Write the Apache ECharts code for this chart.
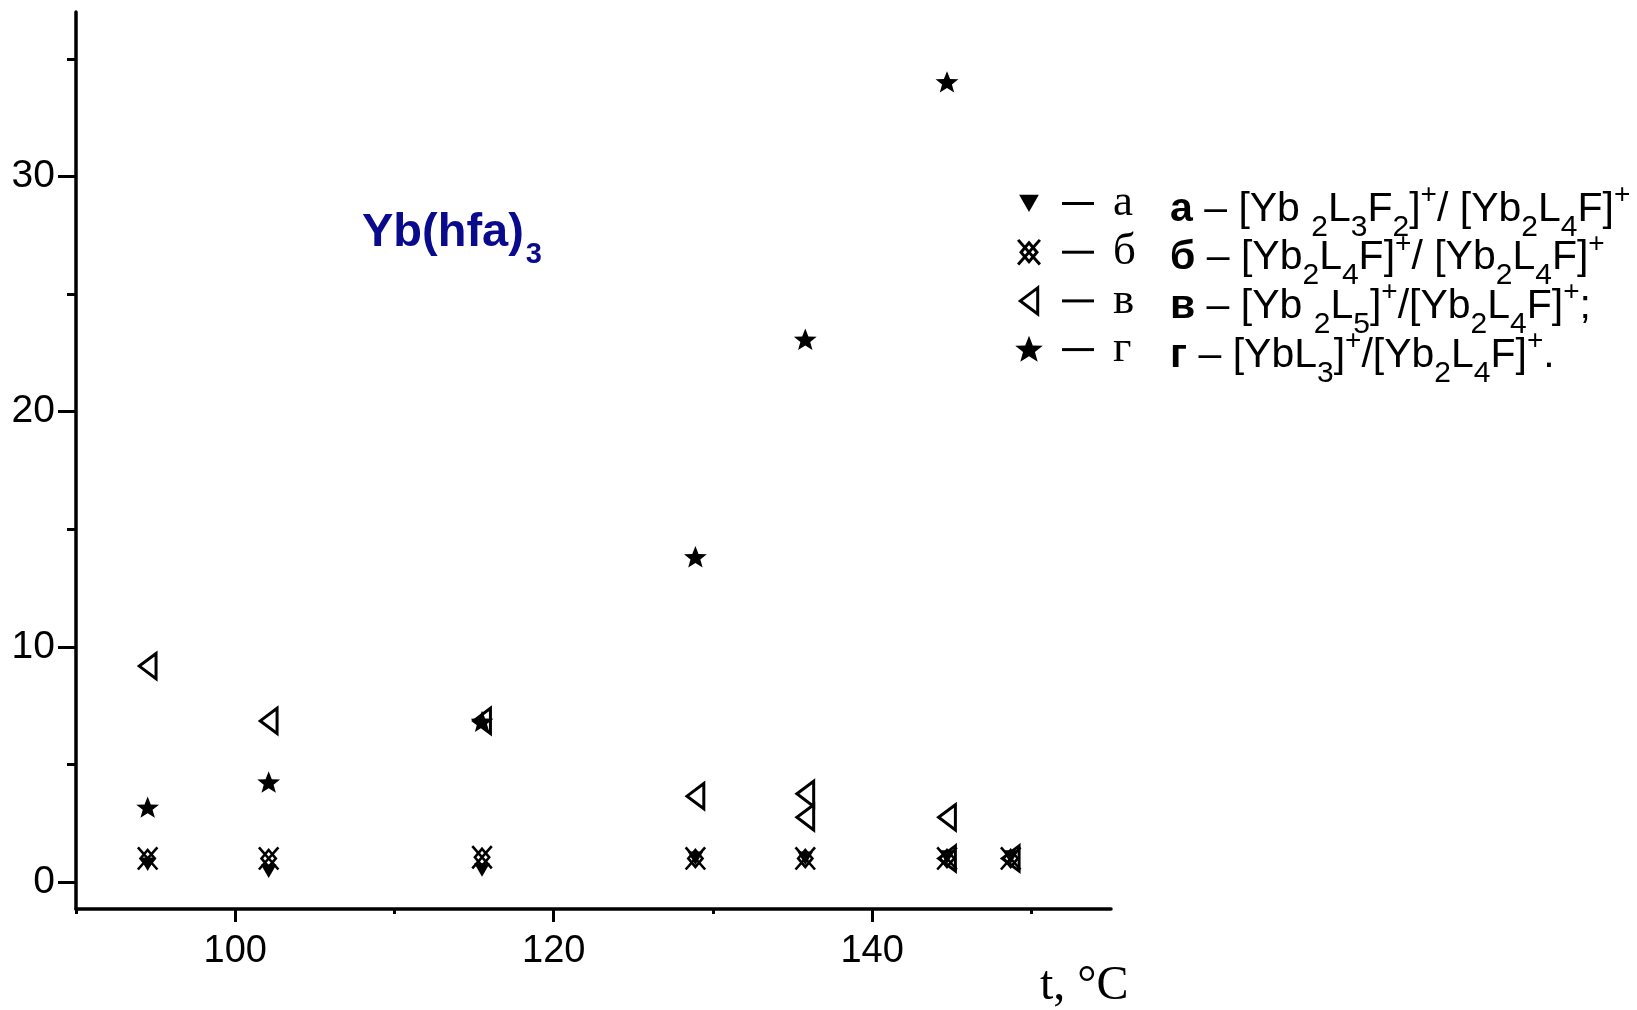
<!DOCTYPE html>
<html><head><meta charset="utf-8">
<script src="https://cdn.jsdelivr.net/npm/echarts@6/dist/echarts.min.js"></script>
<style>html,body{margin:0;padding:0;background:#fff}#c{width:1637px;height:1010px}</style>
</head><body><div id="c"></div>
<script>
// ---------- data ----------
const xRange = [90, 155];
const yRange = [-1.15, 37.0];
const xMajorTicks = [100, 120, 140];
const xMinorTicks = [90, 110, 130, 150];
const yMajorTicks = [0, 10, 20, 30];
const yMinorTicks = [5, 15, 25, 35];
const seriesNames = ['а', 'б', 'в', 'г'];
const dataA = [[94.5, 0.75], [102.1, 0.45], [115.5, 0.5], [128.9, 1.0], [135.8, 1.0], [144.7, 1.05], [148.7, 1.05]];
const dataB = [[94.5, 1.0], [102.1, 1.0], [115.5, 1.05], [128.9, 1.0], [135.8, 1.0], [144.7, 1.0], [148.7, 1.0]];
const dataV = [[94.5, 9.18], [102.1, 6.85], [115.5, 6.85], [128.9, 3.65], [135.8, 3.75], [135.8, 2.75], [144.7, 2.75], [144.7, 1.0], [148.7, 1.0]];
const dataG = [[94.5, 3.15], [102.1, 4.22], [115.5, 6.8], [128.9, 13.8], [135.8, 23.05], [144.7, 34.0]];
const titleMain = 'Yb(hfa)';
const titleSub = '3';
const axisNameText = 't, °C';
const ratioRows = [
  [['b','а'],['n',' – [Yb '],['sub','2'],['n','L'],['sub','3'],['n','F'],['sub','2'],['n',']'],['sup','+'],['n','/ [Yb'],['sub','2'],['n','L'],['sub','4'],['n','F]'],['sup','+']],
  [['b','б'],['n',' – [Yb'],['sub','2'],['n','L'],['sub','4'],['n','F]'],['sup','+'],['n','/ [Yb'],['sub','2'],['n','L'],['sub','4'],['n','F]'],['sup','+']],
  [['b','в'],['n',' – [Yb '],['sub','2'],['n','L'],['sub','5'],['n',']'],['sup','+'],['n','/[Yb'],['sub','2'],['n','L'],['sub','4'],['n','F]'],['sup','+'],['n',';']],
  [['b','г'],['n',' – [YbL'],['sub','3'],['n',']'],['sup','+'],['n','/[Yb'],['sub','2'],['n','L'],['sub','4'],['n','F]'],['sup','+'],['n','.']]
];

// ---------- symbols (20x20 boxes) ----------
const BOX = 'M0,0L0,0M20,20L20,20';
const SYM_A = 'path://' + BOX + 'M3.2,4L16.8,4L10,15.8Z';
const SYM_B = 'path://' + BOX + 'M2.5,1.5L17.5,18.5M17.5,1.5L2.5,18.5M10,3.5L15.5,10L10,16.5L4.5,10Z';
const SYM_V = 'path://' + BOX + 'M16,1L4,10L16,19Z';
const SYM_G = 'path://' + BOX + 'M10,0.5L12.6,7.1L19.5,7.3L14.1,11.6L16,18.3L10,14.5L4,18.3L5.9,11.6L0.5,7.3L7.4,7.1Z';

const SANS = 'Liberation Sans';
const SERIF = 'Liberation Serif';

const chart = echarts.init(document.getElementById('c'), null, {renderer: 'canvas', width: 1637, height: 1010});

const ratioText = ratioRows.map(r => r.map(t => '{' + t[0] + '|' + t[1] + '}').join('')).join('\n');
const LH = 48.7;

const axisCommon = {
  type: 'value', splitLine: {show: false}
};

const option = {
  animation: false,
  backgroundColor: '#fff',
  grid: {left: 76, right: 526, top: 12, bottom: 101},
  xAxis: [
    Object.assign({}, axisCommon, {
      min: xRange[0], max: xRange[1], position: 'bottom',
      axisLine: {onZero: false, lineStyle: {color: '#000', width: 3.5}},
      axisTick: {customValues: xMajorTicks, length: 13, lineStyle: {color: '#000', width: 3}},
      axisLabel: {customValues: xMajorTicks, margin: 24, fontSize: 38, fontFamily: SANS, color: '#000'}
    }),
    Object.assign({}, axisCommon, {
      min: xRange[0], max: xRange[1], position: 'bottom',
      axisLine: {show: false, onZero: false},
      axisTick: {customValues: xMinorTicks, length: 5, lineStyle: {color: '#000', width: 3}},
      axisLabel: {show: false}
    })
  ],
  yAxis: [
    Object.assign({}, axisCommon, {
      min: yRange[0], max: yRange[1], position: 'left',
      axisLine: {onZero: false, lineStyle: {color: '#000', width: 3.5}},
      axisTick: {customValues: yMajorTicks, length: 18, lineStyle: {color: '#000', width: 3}},
      axisLabel: {customValues: yMajorTicks, margin: 21, fontSize: 39, fontFamily: SANS, color: '#000'}
    }),
    Object.assign({}, axisCommon, {
      min: yRange[0], max: yRange[1], position: 'left',
      axisLine: {show: false, onZero: false},
      axisTick: {customValues: yMinorTicks, length: 9, lineStyle: {color: '#000', width: 3}},
      axisLabel: {show: false}
    })
  ],
  legend: {
    orient: 'vertical', left: 1013, top: 181, padding: 0,
    itemWidth: 29, itemHeight: 29, itemGap: 3.7,
    selectedMode: false,
    data: [
      {name: seriesNames[0]},
      {name: seriesNames[1], itemStyle: {color: 'rgba(0,0,0,0)', borderColor: '#000', borderWidth: 3}},
      {name: seriesNames[2], itemStyle: {color: 'rgba(0,0,0,0)', borderColor: '#000', borderWidth: 3}},
      {name: seriesNames[3]}
    ],
    formatter: name => '{s| }{d| }{s2| }{l|' + name + '}',
    textStyle: {
      color: '#000',
      rich: {
        s: {width: 13.5, lineHeight: 30, fontSize: 10},
        d: {width: 32, height: 3, backgroundColor: '#000', lineHeight: 30, fontSize: 10},
        s2: {width: 19, lineHeight: 30, fontSize: 10},
        l: {fontFamily: SERIF, fontSize: 45, lineHeight: 30, color: '#000'}
      }
    }
  },
  series: [
    {type: 'scatter', name: seriesNames[0], data: dataA, symbol: SYM_A, symbolSize: 23,
     itemStyle: {color: '#000', opacity: 1}},
    {type: 'scatter', name: seriesNames[1], data: dataB, symbol: SYM_B, symbolSize: 26,
     itemStyle: {color: 'rgba(0,0,0,0)', borderColor: '#000', borderWidth: 2.6, opacity: 1}},
    {type: 'scatter', name: seriesNames[2], data: dataV, symbol: SYM_V, symbolSize: 28,
     itemStyle: {color: 'rgba(0,0,0,0)', borderColor: '#000', borderWidth: 3, opacity: 1}},
    {type: 'scatter', name: seriesNames[3], data: dataG, symbol: SYM_G, symbolSize: 24,
     itemStyle: {color: '#000', opacity: 1}}
  ],
  graphic: [
    {type: 'text', x: 362, y: 208, style: {
      text: '{m|' + titleMain + '}{s|' + titleSub + '}',
      align: 'left', verticalAlign: 'top',
      rich: {
        m: {fontFamily: SANS, fontWeight: 'bold', fontSize: 47, lineHeight: 50, fill: '#0a0a8c'},
        s: {fontFamily: SANS, fontWeight: 'bold', fontSize: 29, lineHeight: 50, padding: [44, 0, 0, 2], fill: '#0a0a8c'}
      }
    }},
    {type: 'text', x: 1170, y: 185, style: {
      text: ratioText, align: 'left', verticalAlign: 'top',
      rich: {
        b: {fontFamily: SANS, fontWeight: 'bold', fontSize: 41, lineHeight: LH, fill: '#000'},
        n: {fontFamily: SANS, fontSize: 41, lineHeight: LH, fill: '#000'},
        sub: {fontFamily: SANS, fontSize: 30, lineHeight: LH, padding: [36, 0, 0, 0], fill: '#000'},
        sup: {fontFamily: SANS, fontSize: 28, lineHeight: LH, padding: [0, 0, 28, 0], fill: '#000'}
      }
    }},
    {type: 'text', x: 1040, y: 986, style: {
      text: axisNameText, align: 'left', verticalAlign: 'middle',
      fontFamily: SERIF, fontSize: 48, fill: '#000'
    }}
  ]
};
chart.setOption(option);
</script>
</body></html>
